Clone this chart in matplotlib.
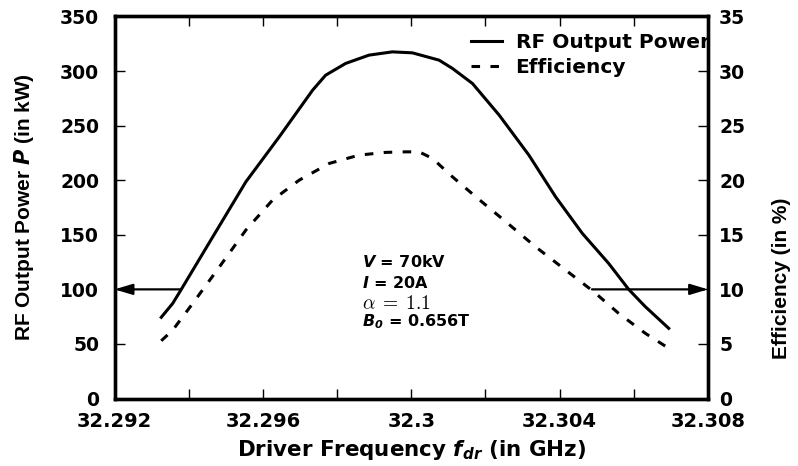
import numpy as np
import matplotlib
matplotlib.use('Agg')
import matplotlib.pyplot as plt

# values
freq_power = [32.29326, 32.29357, 32.29380, 32.29465, 32.29554, 32.29644, 32.29734,
              32.29769, 32.29823, 32.29886, 32.29949, 32.30003, 32.30075, 32.30111,
              32.30165, 32.30237, 32.30317, 32.30389, 32.30461, 32.30532, 32.30586,
              32.30631, 32.30694]
power_kw = [74.4, 87.2, 100.0, 148.2, 198.5, 239.7, 282.5,
            296.2, 307.0, 314.6, 317.6, 316.7, 310.0, 302.4,
            288.6, 259.6, 223.0, 184.8, 151.3, 123.8, 100.0,
            84.1, 64.3]

freq_eff = [32.29326, 32.29357, 32.29411, 32.29483, 32.29554, 32.29626, 32.29698,
            32.29779, 32.29859, 32.29931, 32.29985, 32.30021, 32.30057, 32.30111,
            32.30174, 32.30255, 32.30335, 32.30416, 32.30492, 32.30559, 32.30631,
            32.30694]
eff_pct = [5.29, 6.27, 8.72, 12.07, 15.43, 18.18, 20.01,
           21.54, 22.30, 22.55, 22.60, 22.60, 22.00, 20.31,
           18.48, 16.19, 13.90, 11.77, 9.78, 7.80, 5.97,
           4.60]

xticks = [32.292, 32.296, 32.3, 32.304, 32.308]
xtick_labels = ['32.292', '32.296', '32.3', '32.304', '32.308']
xminor = [32.294, 32.298, 32.302, 32.306]
yticks_left = [0, 50, 100, 150, 200, 250, 300, 350]
yticks_right = [0, 5, 10, 15, 20, 25, 30, 35]

# arrow marks: (start freq, end freq) at P = 100 kW
arrow_left = (32.2938, 32.292)
arrow_right = (32.30487, 32.308)
arrow_level = 100

params = [r'$\mathbfit{V}$ = 70kV', r'$\mathbfit{I}$ = 20A', r'$\alpha\;=\;1.1$',
          r'$\mathbfit{B}_{\mathbfit{0}}$ = 0.656T']

plt.rcParams['font.family'] = ['DejaVu Sans']
side_font = ['Liberation Sans', 'DejaVu Sans']

fig = plt.figure(figsize=(7.98, 4.66), dpi=100)
ax = fig.add_axes([0.1435, 0.1448, 0.7438, 0.8198])
ax2 = ax.twinx()

l1, = ax.plot(freq_power, power_kw, color='k', lw=2.2, label='RF Output Power')
l2, = ax2.plot(freq_eff, eff_pct, color='k', lw=2.2, dashes=(2.8, 3.4), label='Efficiency')

ax.set_xlim(32.292, 32.308)
ax.set_ylim(0, 350)
ax2.set_ylim(0, 35)

ax.set_xticks(xticks, xtick_labels)
ax.set_xticks(xminor, minor=True)
ax.set_yticks(yticks_left)
ax2.set_yticks(yticks_right)

for a in (ax, ax2):
    for s in a.spines.values():
        s.set_linewidth(2.4)
ax.tick_params(axis='x', which='both', direction='in', length=7, width=1, top=True, pad=10,
               labelsize=14)
ax.tick_params(axis='y', direction='in', length=7, width=1, right=False, pad=11, labelsize=13.5)
ax2.tick_params(axis='y', direction='in', length=7, width=1, pad=8, labelsize=13.5)
for lab in ax.get_xticklabels() + ax.get_yticklabels() + ax2.get_yticklabels():
    lab.set_fontweight('bold')

ax.set_xlabel(r'Driver Frequency $\mathbfit{f}_{\mathbfit{dr}}$ (in GHz)', fontsize=15.4,
              fontweight='bold')
ax.xaxis.set_label_coords(0.5, -0.103)
ax.set_ylabel(r'RF Output Power $\mathbfit{P}$ (in kW)', fontsize=15, fontweight='bold',
              family=side_font)
ax.yaxis.set_label_coords(-0.132, 0.5)
ax2.set_ylabel('Efficiency (in %)', fontsize=15, fontweight='bold', family=side_font)
ax2.yaxis.set_label_coords(1.108, 0.315)

arrow_style = dict(arrowstyle='-|>,head_length=0.6,head_width=0.18', color='k', lw=1.6,
                   mutation_scale=18, shrinkA=0, shrinkB=0)
ax.annotate('', xy=(arrow_left[1], arrow_level), xytext=(arrow_left[0], arrow_level),
            arrowprops=arrow_style, annotation_clip=False)
ax.annotate('', xy=(arrow_right[1], arrow_level), xytext=(arrow_right[0], arrow_level),
            arrowprops=arrow_style, annotation_clip=False)

ys = [0.357, 0.302, 0.25, 0.2]
for txt, yy in zip(params, ys):
    if 'alpha' in txt:
        ax.text(0.4176, yy, txt, transform=ax.transAxes, fontsize=14, va='center',
                ha='left', math_fontfamily='cm')
    else:
        ax.text(0.4176, yy, txt, transform=ax.transAxes, fontsize=11.5, va='center',
                ha='left', fontweight='bold')

ax2.legend([l1, l2], ['RF Output Power', 'Efficiency'], loc='upper left',
           bbox_to_anchor=(0.601, 0.957), frameon=False, borderpad=0, borderaxespad=0,
           handlelength=1.55, handletextpad=0.65, labelspacing=0.3,
           prop=dict(size=14.5, weight='bold'))

fig.savefig('out.png', dpi=100)
